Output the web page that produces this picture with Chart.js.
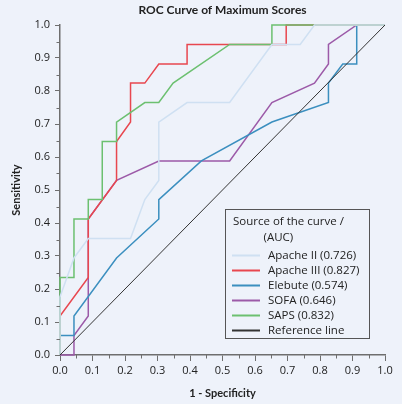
<!DOCTYPE html>
<html>
<head>
<meta charset="utf-8">
<script src="https://cdn.jsdelivr.net/npm/chart.js@4.4.0/dist/chart.umd.min.js"></script>
<style>
  html, body { margin: 0; padding: 0; background: #eef2fa; }
  #wrap { width: 402px; height: 404px; }
</style>
</head>
<body>
<div id="wrap"><canvas id="roc" width="402" height="404"></canvas></div>
<script>
// ROC curve data (1 - specificity, sensitivity)
const scoreNames = ['Apache II', 'Apache III', 'Elebute', 'SOFA', 'SAPS'];
const aucValues = ['0.726', '0.827', '0.574', '0.646', '0.832'];
const lineColors = ['#cfe0f2', '#e8474f', '#3b8fbf', '#9c5aa8', '#6cc070', '#333333'];

const apache2X = [0, 0, 0.043, 0.087, 0.217, 0.261, 0.304, 0.304, 0.391, 0.522, 0.652, 0.739, 0.783, 1];
const apache2Y = [0, 0.176, 0.294, 0.353, 0.353, 0.471, 0.529, 0.706, 0.765, 0.765, 0.941, 0.941, 1, 1];

const apache3X = [0, 0, 0.087, 0.087, 0.174, 0.174, 0.217, 0.217, 0.261, 0.304, 0.391, 0.391, 0.696, 0.696, 1];
const apache3Y = [0, 0.118, 0.235, 0.412, 0.529, 0.647, 0.706, 0.824, 0.824, 0.882, 0.882, 0.941, 0.941, 1, 1];

const elebuteX = [0, 0, 0.043, 0.043, 0.174, 0.304, 0.304, 0.435, 0.652, 0.826, 0.826, 0.870, 0.913, 0.913, 1];
const elebuteY = [0, 0.059, 0.059, 0.118, 0.294, 0.412, 0.471, 0.588, 0.706, 0.765, 0.824, 0.882, 0.882, 1, 1];

const sofaX = [0, 0.043, 0.043, 0.087, 0.087, 0.174, 0.304, 0.522, 0.652, 0.783, 0.826, 0.826, 0.913, 1];
const sofaY = [0, 0, 0.059, 0.118, 0.412, 0.529, 0.588, 0.588, 0.765, 0.824, 0.882, 0.941, 1, 1];

const sapsX = [0, 0, 0.043, 0.043, 0.087, 0.087, 0.130, 0.130, 0.174, 0.174, 0.261, 0.304, 0.348, 0.522, 0.652, 0.652, 1];
const sapsY = [0, 0.235, 0.235, 0.412, 0.412, 0.471, 0.471, 0.647, 0.647, 0.706, 0.765, 0.765, 0.824, 0.941, 0.941, 1, 1];

const refX = [0, 1];
const refY = [0, 1];

const minorTicks = [0.05, 0.15, 0.25, 0.35, 0.45, 0.55, 0.65, 0.75, 0.85, 0.95];

const FONT = '"Open Sans", Lato, sans-serif';
const TITLE_FONT = 'Lato, "Open Sans", sans-serif';
const axisGray = '#6e6e6e';

function toPoints(xs, ys) {
  return xs.map((x, i) => ({ x: x, y: ys[i] }));
}

const seriesX = [apache2X, apache3X, elebuteX, sofaX, sapsX, refX];
const seriesY = [apache2Y, apache3Y, elebuteY, sofaY, sapsY, refY];
const legendLabels = scoreNames.map((n, i) => n + ' (' + aucValues[i] + ')').concat(['Reference line']);
const drawOrder = [1, 3, 4, 5, 2, 0];

const datasets = seriesX.map((xs, i) => ({
  label: legendLabels[i],
  data: toPoints(xs, seriesY[i]),
  showLine: true,
  borderColor: lineColors[i],
  borderWidth: i === 5 ? 1 : 1.5,
  pointRadius: 0,
  tension: 0,
  fill: false,
  clip: false,
  order: drawOrder[i]
}));

// petits traits de graduation intermédiaires
const minorTickPlugin = {
  id: 'minorTicks',
  afterDraw(chart) {
    const ctx = chart.ctx;
    const xs = chart.scales.x, ys = chart.scales.y;
    ctx.save();
    ctx.strokeStyle = axisGray;
    ctx.lineWidth = 1;
    minorTicks.forEach(v => {
      const px = Math.round(xs.getPixelForValue(v)) + 0.5;
      ctx.beginPath();
      ctx.moveTo(px, xs.top);
      ctx.lineTo(px, xs.top + 3.5);
      ctx.stroke();
      const py = Math.round(ys.getPixelForValue(v)) + 0.5;
      ctx.beginPath();
      ctx.moveTo(ys.right, py);
      ctx.lineTo(ys.right - 3.5, py);
      ctx.stroke();
    });
    ctx.restore();
  }
};

// légende encadrée dans la zone du graphique
const legendBoxPlugin = {
  id: 'legendBox',
  afterDraw(chart) {
    const ctx = chart.ctx;
    const a = chart.chartArea;
    const x = a.left + 165.5, y = a.top + 184.5, w = 144, h = 129;
    ctx.save();
    ctx.fillStyle = '#eef2fa';
    ctx.fillRect(x, y, w, h);
    ctx.strokeStyle = '#555555';
    ctx.lineWidth = 1;
    ctx.strokeRect(x, y, w, h);
    ctx.font = '11.5px ' + FONT;
    ctx.fillStyle = '#222222';
    ctx.textBaseline = 'middle';
    ctx.fillText('Source of the curve /', x + 7.5, y + 12.5);
    ctx.fillText('(AUC)', x + 38, y + 28);
    chart.data.datasets.forEach((ds, i) => {
      const ly = Math.round(y + 45 + i * 15.1) + 0.5;
      ctx.strokeStyle = ds.borderColor;
      ctx.lineWidth = 2;
      ctx.beginPath();
      ctx.moveTo(x + 6.5, ly);
      ctx.lineTo(x + 34.5, ly);
      ctx.stroke();
      ctx.fillText(ds.label, x + 42.5, ly);
    });
    ctx.restore();
  }
};

Chart.defaults.font.family = FONT;
Chart.defaults.color = '#222222';

new Chart(document.getElementById('roc').getContext('2d'), {
  type: 'scatter',
  data: { datasets: datasets },
  options: {
    responsive: false,
    animation: false,
    devicePixelRatio: 1,
    layout: { padding: { left: 0, right: 17, top: 0, bottom: 0 } },
    plugins: {
      legend: { display: false },
      tooltip: { enabled: false },
      title: {
        display: true,
        text: 'ROC Curve of Maximum Scores',
        fullSize: false,
        color: '#222222',
        font: { family: TITLE_FONT, size: 12, weight: 'bold' },
        padding: { top: 3, bottom: 7.6 }
      }
    },
    scales: {
      x: {
        type: 'linear',
        min: 0,
        max: 1,
        afterFit: s => { s.height = 49; },
        border: { color: axisGray, width: 1.5 },
        grid: { drawOnChartArea: false, drawTicks: true, tickLength: 6, color: axisGray, tickWidth: 1 },
        ticks: { stepSize: 0.1, padding: 3, font: { size: 11 }, maxRotation: 0,
          callback: v => v.toFixed(1) },
        title: { display: true, text: '1 - Specificity', font: { family: TITLE_FONT, size: 11, weight: 'bold' },
          padding: { top: 0, bottom: 4 } }
      },
      y: {
        type: 'linear',
        min: 0,
        max: 1,
        afterFit: s => { s.width = 60; },
        border: { color: axisGray, width: 1.5 },
        grid: { drawOnChartArea: false, drawTicks: true, tickLength: 5, color: axisGray, tickWidth: 1 },
        ticks: { stepSize: 0.1, padding: 5, font: { size: 11 },
          callback: v => v.toFixed(1) },
        title: { display: true, text: 'Sensitivity', font: { family: TITLE_FONT, size: 11, weight: 'bold' },
          padding: { top: 10, bottom: 0 } }
      }
    }
  },
  plugins: [minorTickPlugin, legendBoxPlugin]
});
</script>
</body>
</html>
